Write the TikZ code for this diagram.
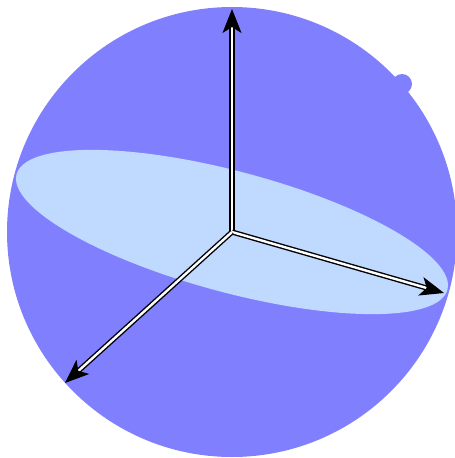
\documentclass[tikz,border=0pt]{standalone}
\usetikzlibrary{arrows.meta}
\definecolor{sphere}{RGB}{128,128,255}
\definecolor{disc}{RGB}{191,217,255}
\tikzset{
  axis/.style={double=white, draw=black, line width=1.4pt, double distance=2.4pt,
    -{Stealth[length=24pt,width=19pt,inset=6pt]}, line join=miter}
}
\begin{document}
\begin{tikzpicture}[x=1pt,y=-1pt]
\useasboundingbox (0,0) rectangle (455,458);
\coordinate (O) at (232,232);
\fill[sphere] (O) circle[radius=225];
\fill[sphere] (402,84) circle[radius=10];
\fill[disc, rotate around={-15:(O)}] (O) ellipse[x radius=223, y radius=60.5];
\coordinate (Z) at (232,9);
\coordinate (X) at (444,293);
\coordinate (Y) at (65,383);
\draw[axis] (O) -- (Z);
\draw[axis] (O) -- (X);
\draw[axis] (O) -- (Y);
\end{tikzpicture}
\end{document}
